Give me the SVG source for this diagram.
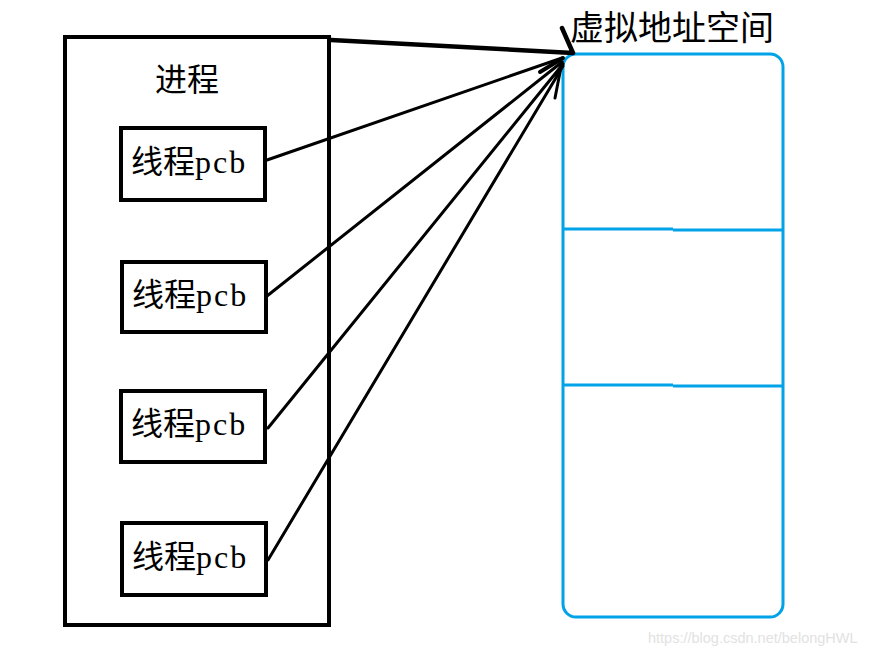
<svg xmlns="http://www.w3.org/2000/svg" width="887" height="656" viewBox="0 0 887 656">
<style>
.box{fill:none;stroke:#000;stroke-width:4}
.t{font-family:"Liberation Serif","Noto Sans CJK SC",serif;font-size:32px;fill:#000}
.p{letter-spacing:2px}
.c{stroke:#000;fill:none;stroke-linecap:round}
.va{fill:none;stroke:#00a2e8;stroke-width:3}
</style>
<rect width="887" height="656" fill="#fff"/>
<g id="process">
<rect class="box" x="65" y="37" width="264" height="588"/>
<text class="t" x="155" y="91">进程</text>
</g>
<g id="pcb1">
<rect class="box" x="121" y="128" width="144" height="72"/>
<text class="t" x="131" y="173">线程<tspan class="p">pcb</tspan></text>
</g>
<g id="pcb2">
<rect class="box" x="122" y="262" width="144" height="70"/>
<text class="t" x="132" y="306">线程<tspan class="p">pcb</tspan></text>
</g>
<g id="pcb3">
<rect class="box" x="121" y="391" width="144" height="71"/>
<text class="t" x="131" y="435">线程<tspan class="p">pcb</tspan></text>
</g>
<g id="pcb4">
<rect class="box" x="122" y="523" width="144" height="72"/>
<text class="t" x="132" y="568">线程<tspan class="p">pcb</tspan></text>
</g>
<g id="vas">
<rect class="va" x="563" y="54" width="220" height="563" rx="13" ry="13"/>
<path class="va" d="M563 229H673M673 230H783M563 385H673M673 386H783"/>
<text x="570" y="40" style="font-family:'Noto Sans CJK SC',sans-serif;font-size:34px;fill:#000">虚拟地址空间</text>
</g>
<g id="connectors">
<path class="c" stroke-width="4.5" d="M331 40L573 53M562 28L573 53"/>
<path class="c" stroke-width="3" d="M267 160L562 58M267 296L562 62M268 428L563 64M268 560L563 66"/>
<path class="c" stroke-width="4" d="M540 72L563 58"/>
<path class="c" stroke-width="3" d="M555 98L562 62"/>
</g>
<text x="648" y="643" style="font-family:'Liberation Sans',sans-serif;font-size:14.5px;fill:#e2e2e2">https://blog.csdn.net/belongHWL</text>
</svg>
